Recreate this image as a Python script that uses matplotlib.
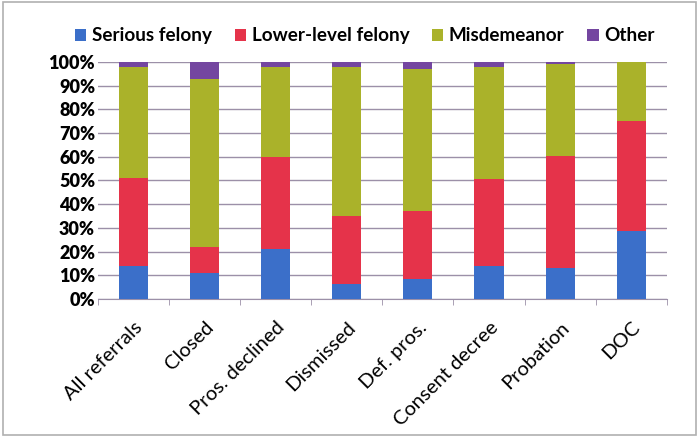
import matplotlib
matplotlib.use("Agg")
import matplotlib.pyplot as plt
from matplotlib.patches import Rectangle
import numpy as np

categories = ["All referrals", "Closed", "Pros. declined", "Dismissed",
              "Def. pros.", "Consent decree", "Probation", "DOC"]
serious = [14, 11, 21, 6.5, 8.5, 14, 13, 28.5]
lower = [37, 11, 39, 28.5, 28.5, 36.5, 47.5, 46.5]
misdemeanor = [47, 71, 38, 63, 60, 47.5, 38.5, 25]
other = [2, 7, 2, 2, 3, 2, 1, 0]
series_names = ["Serious felony", "Lower-level felony", "Misdemeanor", "Other"]
yticks = [0, 10, 20, 30, 40, 50, 60, 70, 80, 90, 100]

colors = ["#3B6FC9", "#E5334A", "#AAB22A", "#7446A0"]

plt.rcParams['font.family'] = ['Lato', 'DejaVu Sans']

fig = plt.figure(figsize=(6.99, 4.37), dpi=100)
ax = fig.add_axes([0.140, 0.316, 0.814, 0.542])

x = np.arange(len(categories))
bottom = np.zeros(len(categories))
handles = []
for vals, c, name in zip([serious, lower, misdemeanor, other], colors, series_names):
    v = np.array(vals, dtype=float)
    h = ax.bar(x, v, 0.41, bottom=bottom, color=c, label=name, zorder=3)
    handles.append(h)
    bottom += v

ax.set_xlim(-0.5, len(categories) - 0.5)
ax.set_ylim(0, 100)
ax.set_yticks(yticks)
ax.set_yticklabels([f"{t}%" for t in yticks], fontsize=13, fontweight='heavy')
ax.set_xticks(x)
ax.set_xticklabels(categories, rotation=45, ha='right', rotation_mode='anchor',
                   fontsize=14.5)
ax.yaxis.grid(True, color="#9C90A8", linewidth=1.0, zorder=0)
for s in ["top", "right", "left"]:
    ax.spines[s].set_visible(False)
ax.spines["bottom"].set_color("#9C90A8")
ax.tick_params(axis='y', length=0, pad=2)
ax.tick_params(axis='x', length=0, pad=14)
ax.set_xticks(np.arange(-0.5, len(categories), 1), minor=True)
ax.tick_params(axis='x', which='minor', length=4, color="#9C90A8", direction='out')

leg = fig.legend(handles=handles, labels=series_names, loc='center',
                 bbox_to_anchor=(0.522, 0.918), ncol=4, frameon=False,
                 prop={'weight': 'bold', 'size': 13.6}, handlelength=0.6,
                 handleheight=0.6, handletextpad=0.3, columnspacing=1.2)

fig.patches.append(Rectangle((0.004, 0.004), 0.992, 0.992, transform=fig.transFigure,
                             fill=False, edgecolor="#B0B0B0", linewidth=1.2))

fig.savefig("out.png", dpi=100)
